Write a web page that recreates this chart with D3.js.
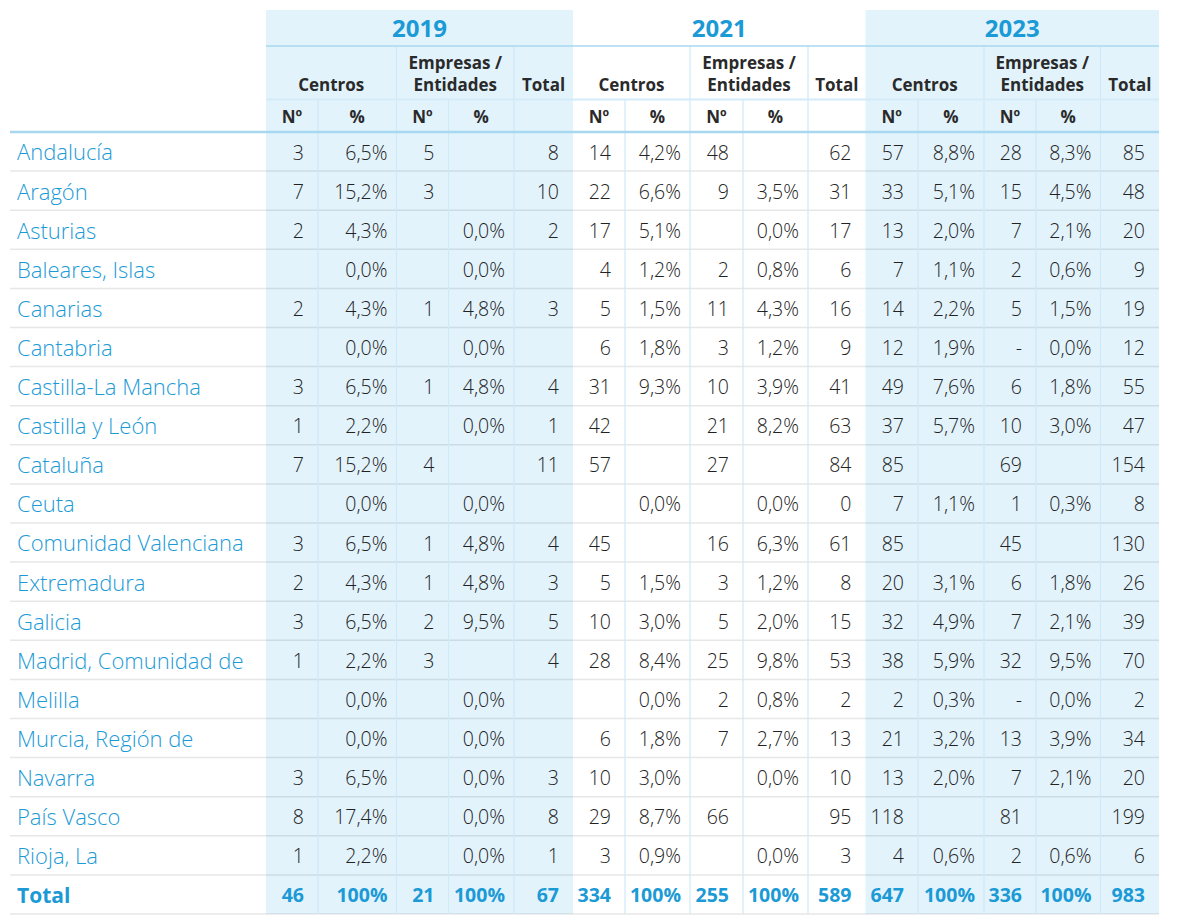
<!DOCTYPE html>
<html>
<head>
<meta charset="utf-8">
<script src="https://cdn.jsdelivr.net/npm/d3@7"></script>
<style>
  html, body { margin: 0; padding: 0; background: #fff; }
  svg { display: block; font-family: "Open Sans", "Noto Sans", sans-serif; }
</style>
</head>
<body>
<svg id="chart" width="1180" height="924"></svg>
<script>
// ---------------- DATA ----------------
const regions = ["Andalucía","Aragón","Asturias","Baleares, Islas","Canarias","Cantabria","Castilla-La Mancha","Castilla y León","Cataluña","Ceuta","Comunidad Valenciana","Extremadura","Galicia","Madrid, Comunidad de","Melilla","Murcia, Región de","Navarra","País Vasco","Rioja, La"];
const years = ["2019", "2021", "2023"];
const groupLabels = ["Centros", "Empresas /\nEntidades", "Total"];
const subLabels = ["Nº", "%", "Nº", "%", ""];
const totalLabel = "Total";

const centrosN_2019   = [3,7,2,null,2,null,3,1,7,null,3,2,3,1,null,null,3,8,1];
const centrosPct_2019 = [6.5,15.2,4.3,0.0,4.3,0.0,6.5,2.2,15.2,0.0,6.5,4.3,6.5,2.2,0.0,0.0,6.5,17.4,2.2];
const empresasN_2019  = [5,3,null,null,1,null,1,null,4,null,1,1,2,3,null,null,null,null,null];
const empresasPct_2019= [null,null,0.0,0.0,4.8,0.0,4.8,0.0,null,0.0,4.8,4.8,9.5,null,0.0,0.0,0.0,0.0,0.0];
const total_2019      = [8,10,2,null,3,null,4,1,11,null,4,3,5,4,null,null,3,8,1];

const centrosN_2021   = [14,22,17,4,5,6,31,42,57,null,45,5,10,28,null,6,10,29,3];
const centrosPct_2021 = [4.2,6.6,5.1,1.2,1.5,1.8,9.3,null,null,0.0,null,1.5,3.0,8.4,0.0,1.8,3.0,8.7,0.9];
const empresasN_2021  = [48,9,null,2,11,3,10,21,27,null,16,3,5,25,2,7,null,66,null];
const empresasPct_2021= [null,3.5,0.0,0.8,4.3,1.2,3.9,8.2,null,0.0,6.3,1.2,2.0,9.8,0.8,2.7,0.0,null,0.0];
const total_2021      = [62,31,17,6,16,9,41,63,84,0,61,8,15,53,2,13,10,95,3];

const centrosN_2023   = [57,33,13,7,14,12,49,37,85,7,85,20,32,38,2,21,13,118,4];
const centrosPct_2023 = [8.8,5.1,2.0,1.1,2.2,1.9,7.6,5.7,null,1.1,null,3.1,4.9,5.9,0.3,3.2,2.0,null,0.6];
const empresasN_2023  = [28,15,7,2,5,"-",6,10,69,1,45,6,7,32,"-",13,7,81,2];
const empresasPct_2023= [8.3,4.5,2.1,0.6,1.5,0.0,1.8,3.0,null,0.3,null,1.8,2.1,9.5,0.0,3.9,2.1,null,0.6];
const total_2023      = [85,48,20,9,19,12,55,47,154,8,130,26,39,70,2,34,20,199,6];

const totals_2019 = [46,100,21,100,67];
const totals_2021 = [334,100,255,100,589];
const totals_2023 = [647,100,336,100,983];

// ---------------- BUILD ----------------
const seriesByYear = {
  "2019": [centrosN_2019, centrosPct_2019, empresasN_2019, empresasPct_2019, total_2019],
  "2021": [centrosN_2021, centrosPct_2021, empresasN_2021, empresasPct_2021, total_2021],
  "2023": [centrosN_2023, centrosPct_2023, empresasN_2023, empresasPct_2023, total_2023]
};
const totalsByYear = { "2019": totals_2019, "2021": totals_2021, "2023": totals_2023 };
const colKinds = ["n", "pct", "n", "pct", "n"];

const locale = d3.formatLocale({decimal: ",", thousands: ".", grouping: [3], currency: ["", "€"]});
const fmtPct = v => locale.format(".1f")(v) + "%";
const fmtCell = (v, kind) => v === null || v === undefined ? "" : (typeof v === "string" ? v : (kind === "pct" ? fmtPct(v) : String(v)));

const BLUE = "#1b9ad6";
const TXT = "#222222";
const HEAD = "#2a2a2a";
const FILL = "#e2f3fc";

const svg = d3.select("#chart");

// layout
const left = 10, right = 1159;
const colEdges = {
  "2019": [266, 318, 396.5, 448.5, 514, 573],
  "2021": [573, 625, 690, 743, 808, 865.5],
  "2023": [865.5, 918, 984, 1036, 1100.5, 1159]
};
const yHeadTop = 10, yLine1 = 46, yLine2 = 99.5, yHeadBottom = 132, yBottom = 914;

const rowKeys = regions.concat([totalLabel]);
const y = d3.scaleBand().domain(rowKeys).range([yHeadBottom, yBottom]).padding(0);
const xBlock = d3.scaleOrdinal().domain(years).range(years.map(yr => colEdges[yr]));

// block fills (2019, 2023)
svg.selectAll("rect.block")
  .data(["2019", "2023"])
  .join("rect")
  .attr("x", d => xBlock(d)[0])
  .attr("y", yHeadTop)
  .attr("width", d => xBlock(d)[5] - xBlock(d)[0])
  .attr("height", yBottom - yHeadTop)
  .attr("fill", FILL);

// row separator lines
svg.selectAll("line.row")
  .data(rowKeys)
  .join("line")
  .attr("x1", left).attr("x2", right)
  .attr("y1", d => y(d) + y.bandwidth())
  .attr("y2", d => y(d) + y.bandwidth())
  .attr("stroke", "rgba(0,0,0,0.095)")
  .attr("stroke-width", 1.5);

// vertical lines inside blocks
const vlines = [];
years.forEach(yr => {
  const e = xBlock(yr);
  vlines.push({x: e[1], top: yLine2});
  vlines.push({x: e[2], top: yLine1});
  vlines.push({x: e[3], top: yLine2});
  vlines.push({x: e[4], top: yLine1});
});
svg.selectAll("line.v")
  .data(vlines)
  .join("line")
  .attr("x1", d => d.x).attr("x2", d => d.x)
  .attr("y1", d => d.top).attr("y2", yBottom)
  .attr("stroke", "#cfe9f7")
  .attr("stroke-width", 1.2);

// header horizontal lines
svg.append("line").attr("x1", 266).attr("x2", right).attr("y1", yLine1).attr("y2", yLine1)
  .attr("stroke", "#a8d8f0").attr("stroke-width", 1.6);
svg.append("line").attr("x1", 266).attr("x2", right).attr("y1", yLine2).attr("y2", yLine2)
  .attr("stroke", "#d4ecf9").attr("stroke-width", 2);
svg.append("line").attr("x1", left).attr("x2", right).attr("y1", yHeadBottom).attr("y2", yHeadBottom)
  .attr("stroke", "#a8d8f0").attr("stroke-width", 2.5);

// year headers
svg.selectAll("text.year")
  .data(years)
  .join("text")
  .attr("x", d => (xBlock(d)[0] + xBlock(d)[5]) / 2)
  .attr("y", 28)
  .attr("dy", "0.36em")
  .attr("text-anchor", "middle")
  .attr("font-size", 24)
  .attr("font-weight", 700)
  .attr("fill", BLUE)
  .text(d => d);

// group headers
years.forEach(yr => {
  const e = xBlock(yr);
  const g = svg.append("g");
  g.append("text").attr("x", (e[0] + e[2]) / 2).attr("y", 84.5).attr("dy", "0.36em")
    .attr("text-anchor", "middle").attr("font-size", 17).attr("font-weight", 700).attr("fill", HEAD)
    .text(groupLabels[0]);
  const lines = groupLabels[1].split("\n");
  g.selectAll("text.emp").data(lines).join("text")
    .attr("x", (e[2] + e[4]) / 2)
    .attr("y", (d, i) => 62.5 + i * 22).attr("dy", "0.36em")
    .attr("text-anchor", "middle").attr("font-size", 17).attr("font-weight", 700).attr("fill", HEAD)
    .text(d => d);
  g.append("text").attr("x", (e[4] + e[5]) / 2).attr("y", 84.5).attr("dy", "0.36em")
    .attr("text-anchor", "middle").attr("font-size", 17).attr("font-weight", 700).attr("fill", HEAD)
    .text(groupLabels[2]);
  g.selectAll("text.sub").data(subLabels).join("text")
    .attr("x", (d, i) => (e[i] + e[i + 1]) / 2)
    .attr("y", 116.5).attr("dy", "0.36em")
    .attr("text-anchor", "middle").attr("font-size", 17).attr("font-weight", 700).attr("fill", HEAD)
    .text(d => d);
});

// region labels
svg.selectAll("text.label")
  .data(rowKeys)
  .join("text")
  .attr("x", 17)
  .attr("y", d => y(d) + y.bandwidth() / 2 + 1)
  .attr("dy", "0.36em")
  .attr("font-size", d => d === totalLabel ? 21 : 22)
  .attr("font-weight", d => d === totalLabel ? 700 : 300)
  .attr("fill", BLUE)
  .text(d => d);

// data cells
const pad = {n: 14, pct: 9};
years.forEach(yr => {
  const e = xBlock(yr);
  const cells = [];
  seriesByYear[yr].forEach((arr, ci) => {
    arr.forEach((v, ri) => cells.push({row: regions[ri], col: ci, text: fmtCell(v, colKinds[ci]), total: false}));
  });
  totalsByYear[yr].forEach((v, ci) => {
    cells.push({row: totalLabel, col: ci, text: colKinds[ci] === "pct" ? v + "%" : String(v), total: true});
  });
  svg.append("g").selectAll("text").data(cells).join("text")
    .attr("x", d => e[d.col + 1] - pad[colKinds[d.col]])
    .attr("y", d => y(d.row) + y.bandwidth() / 2 + 1)
    .attr("dy", "0.36em")
    .attr("text-anchor", "end")
    .attr("font-size", 19.5)
    .attr("font-weight", d => d.total ? 700 : 300)
    .attr("fill", d => d.total ? BLUE : TXT)
    .text(d => d.text);
});
</script>
</body>
</html>
